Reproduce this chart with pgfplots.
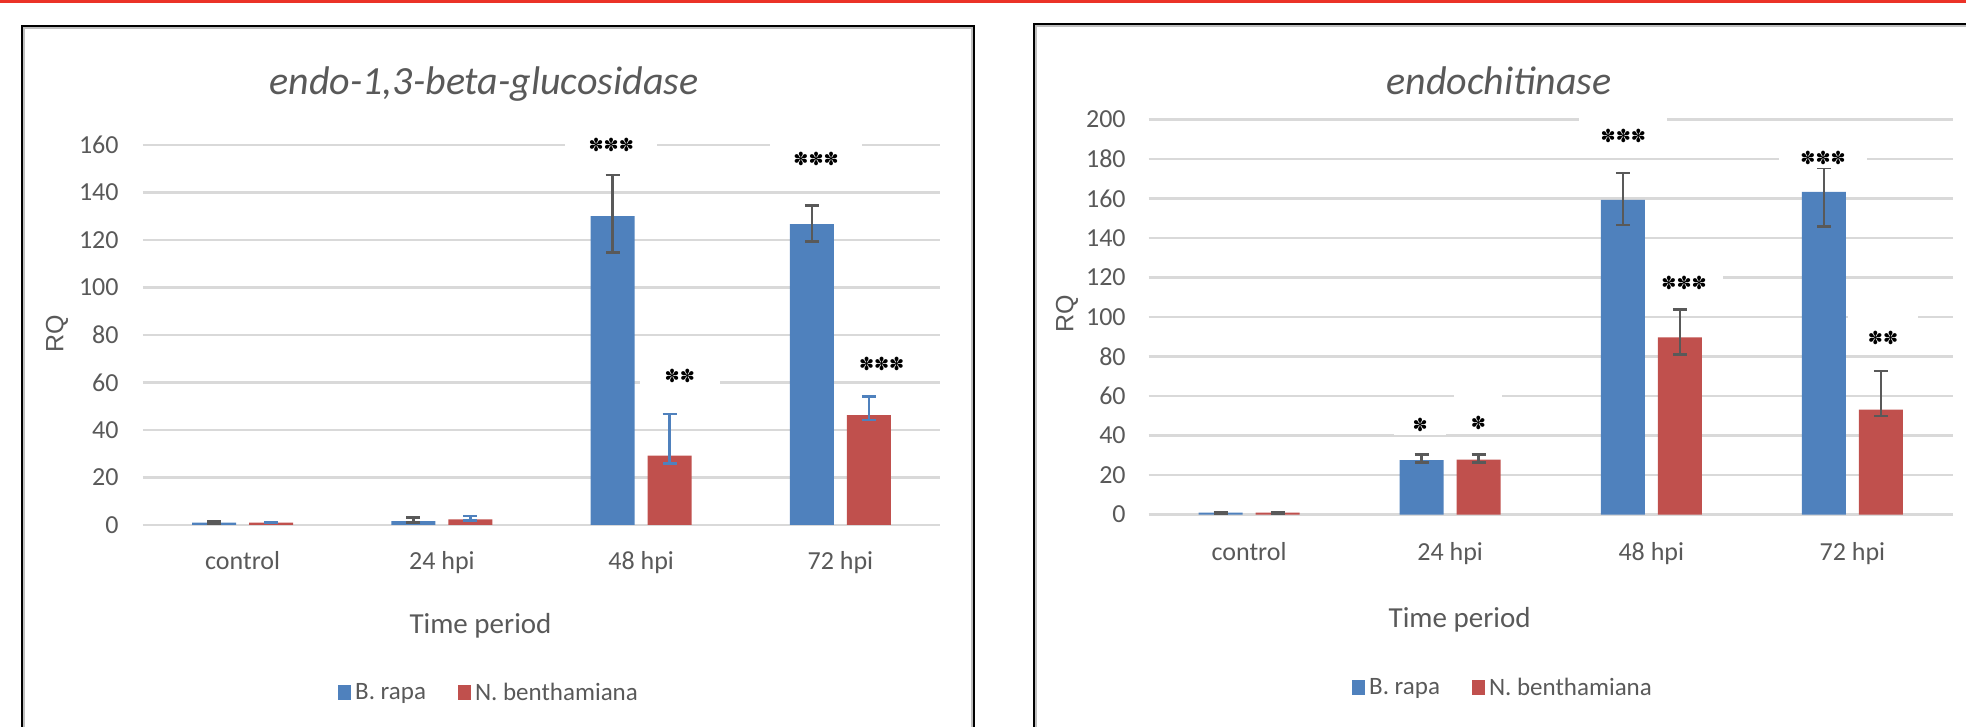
\documentclass[border=0pt]{standalone}
\usepackage{pgfplots}
\pgfplotsset{compat=1.18}
\usepackage{fontspec}
\setmainfont{Carlito}
\newfontfamily\symfont{DejaVu Sans}
\newfontfamily\arialfont{Liberation Sans}
\definecolor{bblue}{HTML}{4F81BD}
\definecolor{rred}{HTML}{C0504D}
\definecolor{txt}{HTML}{595959}
\definecolor{grd}{HTML}{D9D9D9}
\definecolor{errg}{HTML}{595959}
\definecolor{topred}{RGB}{235,50,40}

\pgfplotsset{
 common/.style={
   scale only axis, ybar, bar width=22pt, clip=false,
   xmin=-0.5, xmax=3.5, ymin=0,
   xtick={0,1,2,3}, xticklabels={control,24 hpi,48 hpi,72 hpi},
   axis line style={draw=none}, major tick length=0pt,
   ymajorgrids, major grid style={grd, line width=1.25pt},
   tick label style={font=\fontsize{13pt}{15pt}\selectfont, text=txt},
   /pgf/number format/assume math mode=true,
   yticklabel style={anchor=east, inner sep=0pt, xshift=-12pt},
   legend columns=-1, legend cell align=left,
   legend style={draw=none, fill=none, font=\fontsize{12.5pt}{15pt}\selectfont, text=txt, anchor=center,
     /tikz/every even column/.append style={column sep=14pt}},
 },
 limg/.style={legend image code/.code={\path[##1] (0pt,-3.75pt) rectangle (6.5pt,3.75pt);}},
 blueb/.style={fill=bblue, draw=none, bar shift=-14.25pt,
   error bars/y dir=both, error bars/y explicit,
   error bars/error bar style={errg, line width=1.3pt},
   error bars/error mark options={errg, rotate=90, mark size=3.5pt, line width=1.3pt}},
 redb/.style={fill=rred, draw=none, bar shift=14.25pt,
   error bars/y dir=both, error bars/y explicit,
   error bars/error bar style={#1, line width=1.3pt},
   error bars/error mark options={#1, rotate=90, mark size=3.5pt, line width=1.3pt}},
}
\newcommand\sig[4]{%
  \node[fill=white, minimum width=#4, minimum height=19pt, inner sep=0pt, yshift=4.5pt] at (axis cs:#1,#2) {};
  \node[inner sep=0pt, text=black, font=\symfont\fontsize{9pt}{10pt}\selectfont] at (axis cs:#1,#2) {#3};}

\begin{document}
\begin{tikzpicture}
\useasboundingbox (0,0) rectangle (983pt,363.5pt);
% top red rule
\draw[topred, line width=1.5pt] (0,362.75pt) -- (983pt,362.75pt);
% panel frames
\draw[gray!50, line width=1pt] (12pt,-5pt) -- (12pt,349.5pt) -- (486pt,349.5pt) -- (486pt,-5pt);
\draw[black, line width=1pt] (11pt,-5pt) -- (11pt,350.5pt) -- (487pt,350.5pt) -- (487pt,-5pt);
\draw[gray!50, line width=1pt] (518pt,-5pt) -- (518pt,350.5pt) -- (990pt,350.5pt);
\draw[black, line width=1pt] (517pt,-5pt) -- (517pt,351.5pt) -- (990pt,351.5pt);

% ---------------- left panel ----------------
\begin{axis}[common, at={(71.5pt,101pt)}, anchor=south west,
  width=398.5pt, height=190pt, ymax=160, ytick={0,20,...,160},
  xticklabel style={anchor=base, yshift=-22.5pt},
  legend style={at={(0.4354,-0.442)}}]
\addplot[blueb, limg] coordinates {
 (0,1.0) += (0,0.4) -= (0,0.3)
 (1,1.6) += (0,1.6) -= (0,0.5)
 (2,130.0) += (0,17.3) -= (0,15.2)
 (3,126.7) += (0,7.9) -= (0,7.3)
};
\addlegendentry{B. rapa}
\addplot[redb=bblue, limg] coordinates {
 (0,1.0) += (0,0.3) -= (0,0.2)
 (1,2.4) += (0,1.4) -= (0,0.5)
 (2,29.2) += (0,17.5) -= (0,3.4)
 (3,46.3) += (0,7.8) -= (0,2.1)
};
\addlegendentry{N. benthamiana}
\sig{1.850}{160}{✽✽✽}{46pt}
\sig{2.194}{62.7}{✽✽}{40pt}
\sig{2.878}{154}{✽✽✽}{46pt}
\sig{3.207}{67.7}{✽✽✽}{46pt}
\end{axis}
\node[anchor=base, text=txt, font=\fontsize{20pt}{24pt}\selectfont\itshape] at (242pt,316pt) {endo-1,3-beta-glucosidase};
\node[anchor=base, text=txt, font=\fontsize{14.5pt}{17pt}\selectfont] at (240.25pt,46.5pt) {Time period};
\node[rotate=90, text=txt, font=\arialfont\fontsize{12.5pt}{15pt}\selectfont] at (28.5pt,196.5pt) {RQ};

% ---------------- right panel ----------------
\begin{axis}[common, at={(574.25pt,106.2pt)}, anchor=south west,
  width=402.25pt, height=197.5pt, ymax=200, ytick={0,20,...,200},
  xticklabel style={anchor=base, yshift=-23.2pt},
  yticklabel style={xshift=0.75pt},
  legend style={at={(0.4419,-0.439)}}]
\addplot[blueb, limg] coordinates {
 (0,1.0) += (0,0.3) -= (0,0.3)
 (1,27.6) += (0,2.9) -= (0,1.3)
 (2,159.4) += (0,13.6) -= (0,12.7)
 (3,163.4) += (0,12.2) -= (0,17.4)
};
\addlegendentry{B. rapa}
\addplot[redb=errg, limg] coordinates {
 (0,1.0) += (0,0.3) -= (0,0.3)
 (1,27.8) += (0,2.7) -= (0,1.5)
 (2,89.7) += (0,14.0) -= (0,8.5)
 (3,53.1) += (0,19.7) -= (0,3.1)
};
\addlegendentry{N. benthamiana}
\sig{0.851}{45.4}{✽}{26pt}
\sig{1.140}{46.2}{✽}{24pt}
\sig{1.861}{191.7}{✽✽✽}{44pt}
\sig{2.163}{117.1}{✽✽✽}{39pt}
\sig{2.854}{180.8}{✽✽✽}{44pt}
\sig{3.152}{89.2}{✽✽}{35pt}
\end{axis}
\node[anchor=base, text=txt, font=\fontsize{20pt}{24pt}\selectfont\itshape] at (749.5pt,316pt) {endochitinase};
\node[anchor=base, text=txt, font=\fontsize{14.5pt}{17pt}\selectfont] at (729.8pt,49.5pt) {Time period};
\node[rotate=90, text=txt, font=\arialfont\fontsize{12.5pt}{15pt}\selectfont] at (533.5pt,206.5pt) {RQ};
\end{tikzpicture}
\end{document}
